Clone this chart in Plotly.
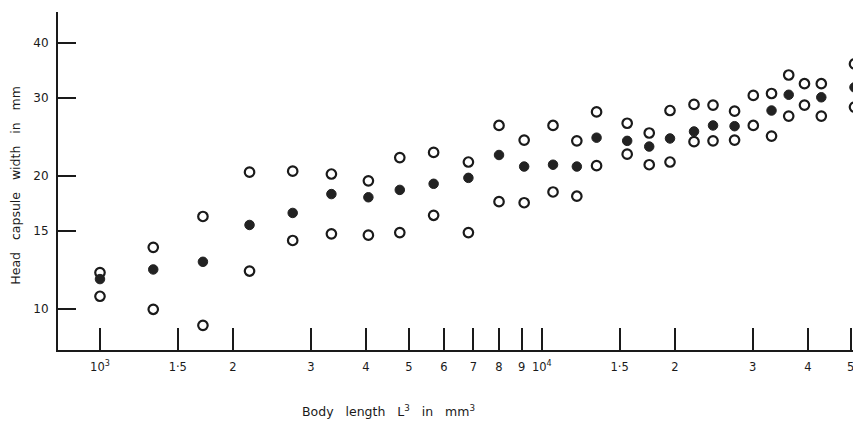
import plotly.graph_objects as go

# Body length L^3 (mm^3), one value per column of points
body_length = [1000, 1320, 1710, 2180, 2730, 3340, 4050, 4770, 5690, 6820,
               8000, 9120, 10600, 12000, 13300, 15600, 17500, 19500, 22100, 24400,
               27300, 30100, 33100, 36200, 39300, 42900, 51000]

# Head capsule width: upper open circles, filled circles, lower open circles
width_upper = [12.1, 13.8, 16.2, 20.4, 20.5, 20.2, 19.5, 22.0, 22.6, 21.5,
               26.0, 24.1, 26.0, 24.0, 27.9, 26.3, 25.0, 28.1, 29.0, 28.9,
               28.0, 30.4, 30.7, 33.8, 32.3, 32.3, 35.8]
width_mean = [11.7, 12.3, 12.8, 15.5, 16.5, 18.2, 17.9, 18.6, 19.2, 19.8,
              22.3, 21.0, 21.2, 21.0, 24.4, 24.0, 23.3, 24.3, 25.2, 26.0,
              25.9, None, 28.1, 30.5, None, 30.1, 31.7]
width_lower = [10.7, 10.0, 9.2, 12.2, 14.3, 14.8, 14.7, 14.9, 16.3, 14.9,
               17.5, 17.4, 18.4, 18.0, 21.1, 22.4, 21.2, 21.5, 23.9, 24.0,
               24.1, 26.0, 24.6, 27.3, 28.9, 27.3, 28.6]

x_tickvals = [1000, 1500, 2000, 3000, 4000, 5000, 6000, 7000, 8000, 9000,
              10000, 15000, 20000, 30000, 40000, 50000]
x_ticktext = ["10<sup>3</sup>", "1·5", "2", "3", "4", "5", "6", "7", "8", "9",
              "10<sup>4</sup>", "1·5", "2", "3", "4", "5"]
y_tickvals = [10, 15, 20, 30, 40]
y_ticktext = ["10", "15", "20", "30", "40"]

ink = "#1a1a1a"
font_family = "DejaVu Sans"

open_marker = dict(symbol="circle", size=9.5, color="white",
                   line=dict(color=ink, width=2.2))
filled_marker = dict(symbol="circle", size=9.5, color="#222222",
                     line=dict(color="#222222", width=1))

fig = go.Figure()
fig.add_trace(go.Scatter(x=body_length, y=width_upper, mode="markers",
                         marker=open_marker, showlegend=False))
fig.add_trace(go.Scatter(x=body_length, y=width_lower, mode="markers",
                         marker=open_marker, showlegend=False))
fig.add_trace(go.Scatter(x=body_length, y=width_mean, mode="markers",
                         marker=filled_marker, showlegend=False))

# The page body adds an 8 px margin, so the figure is sized to fill the rest.
fig.update_layout(
    width=853, height=417,
    margin=dict(l=50, r=0, t=4, b=75),
    paper_bgcolor="white", plot_bgcolor="white",
    font=dict(family=font_family, color=ink),
    xaxis=dict(
        type="log", range=[2.905, 4.7223],
        tickmode="array", tickvals=x_tickvals, ticktext=x_ticktext,
        ticks="inside", ticklen=22, tickwidth=1.5, tickcolor=ink,
        showline=True, linecolor=ink, linewidth=2,
        showgrid=False, zeroline=False,
        tickfont=dict(size=11.5, family=font_family, color=ink),
        ticklabelstandoff=5,
    ),
    yaxis=dict(
        type="log", range=[0.9081, 1.6711],
        tickmode="array", tickvals=y_tickvals, ticktext=y_ticktext,
        ticks="inside", ticklen=18, tickwidth=1.5, tickcolor=ink,
        showline=True, linecolor=ink, linewidth=2,
        showgrid=False, zeroline=False,
        tickfont=dict(size=12, family=font_family, color=ink),
        ticklabelstandoff=5,
    ),
    annotations=[
        dict(text="Body   length   L<sup>3</sup>   in   mm<sup>3</sup>",
             xref="paper", yref="paper", x=0.412, y=-0.18,
             showarrow=False, font=dict(size=12.5, family=font_family, color=ink),
             xanchor="center", yanchor="middle"),
        dict(text="Head   capsule   width   in   mm",
             xref="paper", yref="paper", x=-0.054, y=0.488, textangle=-90,
             showarrow=False, font=dict(size=12.5, family=font_family, color=ink),
             xanchor="center", yanchor="middle"),
    ],
)

fig.write_html("out.html")
